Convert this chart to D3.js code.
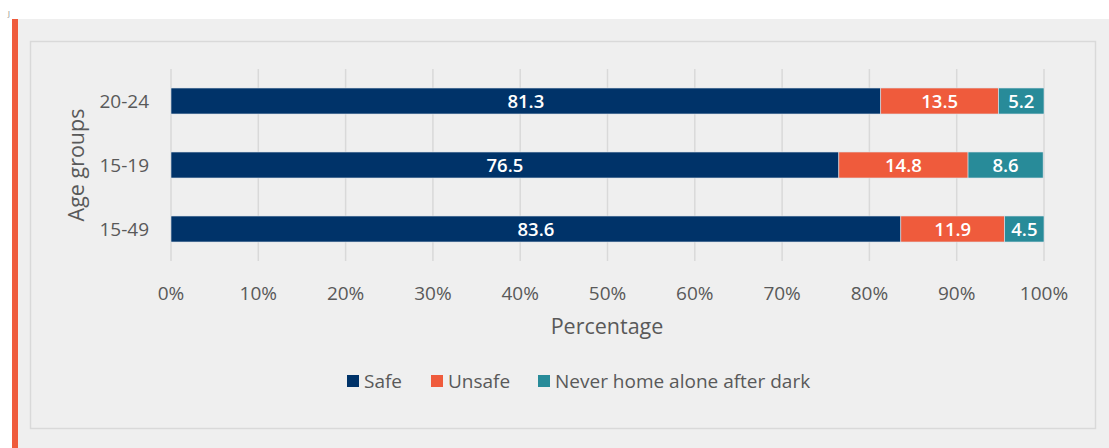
<!DOCTYPE html>
<html><head><meta charset="utf-8">
<script src="https://cdn.jsdelivr.net/npm/d3@7"></script>
<style>body{margin:0;background:#fff;}svg{display:block;font-family:"Open Sans",sans-serif;}</style>
</head><body><svg id="c" width="1109" height="448"></svg>
<script>
const categories = ["20-24", "15-19", "15-49"];
const seriesNames = ["Safe", "Unsafe", "Never home alone after dark"];
const safe = [81.3, 76.5, 83.6];
const unsafe = [13.5, 14.8, 11.9];
const never = [5.2, 8.6, 4.5];
const xTicks = [0, 10, 20, 30, 40, 50, 60, 70, 80, 90, 100];
const colors = ["#003369", "#ef5b3c", "#288b99"];

const svg = d3.select("#c");
svg.append("rect").attr("x", 18).attr("y", 19).attr("width", 1091).attr("height", 429).attr("fill", "#efefef");
svg.append("rect").attr("x", 12).attr("y", 19).attr("width", 6).attr("height", 429).attr("fill", "#ef5b3c");
svg.append("text").attr("x", 8).attr("y", 16).attr("font-size", 7).attr("fill", "#777").text("J");
svg.append("rect").attr("x", 30.5).attr("y", 41.5).attr("width", 1065).attr("height", 387)
  .attr("fill", "none").attr("stroke", "#d9d9d9").attr("stroke-width", 1.5);

const x = d3.scaleLinear().domain([0, 100]).range([171, 1044]);
const y = d3.scaleBand().domain(categories).range([69, 261]).paddingInner(0.594).paddingOuter(0.297);

svg.append("g").selectAll("line").data(xTicks).join("line")
  .attr("x1", d => x(d)).attr("x2", d => x(d)).attr("y1", 69).attr("y2", 261)
  .attr("stroke", "#d9d9d9").attr("stroke-width", 1.5);

const rows = categories.map((c, i) => ({cat: c, vals: [safe[i], unsafe[i], never[i]]}));
const stackData = rows.map(r => { const o = {cat: r.cat}; seriesNames.forEach((s, j) => o[s] = r.vals[j]); return o; });
const stacked = d3.stack().keys(seriesNames)(stackData);

stacked.forEach((layer, j) => {
  const g = svg.append("g");
  g.selectAll("rect").data(layer).join("rect")
    .attr("x", d => x(d[0])).attr("width", d => x(d[1]) - x(d[0]))
    .attr("y", d => y(d.data.cat)).attr("height", y.bandwidth())
    .attr("fill", colors[j]).attr("stroke", "#dde3ea").attr("stroke-width", 0.6);
  g.selectAll("text").data(layer).join("text")
    .attr("x", d => (x(d[0]) + x(d[1])) / 2).attr("y", d => y(d.data.cat) + y.bandwidth() / 2)
    .attr("dy", "0.36em").attr("text-anchor", "middle").attr("fill", "#fff")
    .attr("font-size", 18.5).attr("font-weight", 600)
    .text(d => (d[1] - d[0]).toFixed(1));
});

svg.append("g").selectAll("text").data(xTicks).join("text")
  .attr("x", d => x(d)).attr("y", 300).attr("text-anchor", "middle")
  .attr("font-size", 19).attr("fill", "#595959").text(d => d + "%");

svg.append("g").selectAll("text").data(categories).join("text")
  .attr("x", 149).attr("y", d => y(d) + y.bandwidth() / 2).attr("dy", "0.36em")
  .attr("text-anchor", "end").attr("font-size", 19).attr("fill", "#595959").text(d => d);

svg.append("text").attr("transform", "translate(84,165) rotate(-90)").attr("text-anchor", "middle")
  .attr("font-size", 21.5).attr("fill", "#595959").text("Age groups");
svg.append("text").attr("x", 607).attr("y", 334).attr("text-anchor", "middle")
  .attr("font-size", 21.5).attr("fill", "#595959").text("Percentage");

const legX = [347, 431, 538];
const lg = svg.append("g");
seriesNames.forEach((s, j) => {
  lg.append("rect").attr("x", legX[j]).attr("y", 375).attr("width", 12).attr("height", 12).attr("fill", colors[j]);
  lg.append("text").attr("x", legX[j] + 17).attr("y", 381).attr("dy", "0.36em")
    .attr("font-size", 19).attr("fill", "#595959").text(s);
});
</script></body></html>
